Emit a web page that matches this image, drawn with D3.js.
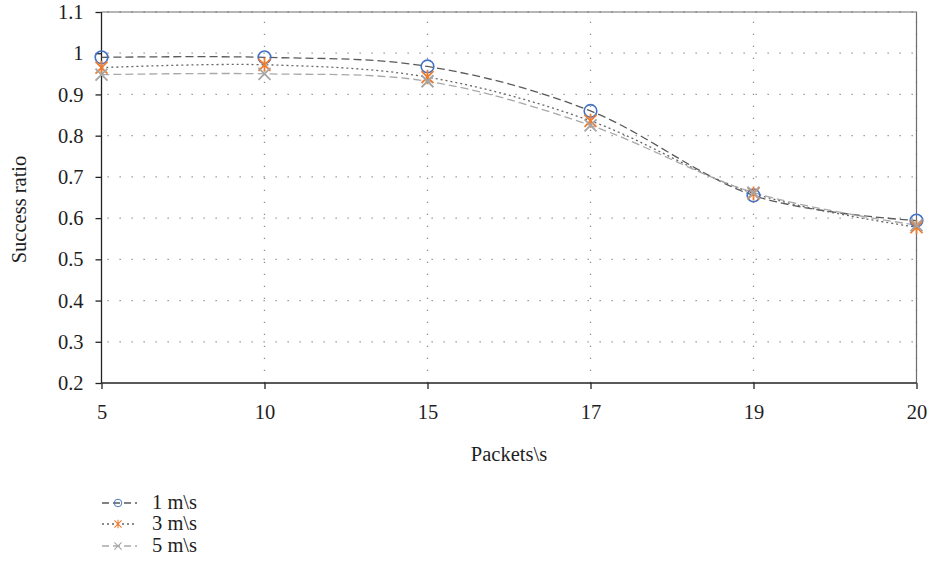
<!DOCTYPE html>
<html>
<head>
<meta charset="utf-8">
<script src="https://cdn.jsdelivr.net/npm/d3@7/dist/d3.min.js"></script>
<style>
  html, body { margin: 0; padding: 0; background: #fff; }
  svg { display: block; }
  text { font-family: "Liberation Serif", "DejaVu Serif", serif; fill: #1e1e1e; }
</style>
</head>
<body>
<svg id="chart" width="932" height="563"></svg>
<script>
// data
const categories = ['5', '10', '15', '17', '19', '20'];
const yTicks = [0.2, 0.3, 0.4, 0.5, 0.6, 0.7, 0.8, 0.9, 1, 1.1];
const speed1 = [0.99, 0.99, 0.968, 0.86, 0.655, 0.594];
const speed3 = [0.965, 0.972, 0.942, 0.836, 0.66, 0.578];
const speed5 = [0.948, 0.95, 0.932, 0.825, 0.662, 0.583];
const seriesNames = ['1 m\\s', '3 m\\s', '5 m\\s'];

const series = [
  { name: seriesNames[0], values: speed1, line: '#5a5a5a', dash: '8,4', marker: 'circle', mcolor: '#4472c4' },
  { name: seriesNames[1], values: speed3, line: '#666666', dash: '2,3', marker: 'star', mcolor: '#ed7d31' },
  { name: seriesNames[2], values: speed5, line: '#a9a9a9', dash: '8,4', marker: 'cross', mcolor: '#a5a5a5' }
];

const svg = d3.select('#chart');
const pLeft = 101.5, pRight = 916.5, pTop = 12, pBottom = 383;
const fs = 20.5;

const x = d3.scalePoint().domain(categories).range([pLeft, pRight]).padding(0);
const y = d3.scaleLinear().domain([0.2, 1.1]).range([pBottom, pTop]);

// grid
const grid = svg.append('g').attr('stroke', '#8c8c8c').attr('stroke-width', 1.3)
    .attr('stroke-dasharray', '1.3,10.7');
grid.selectAll('.hg').data(yTicks.slice(1)).join('line')
    .attr('x1', pLeft + 6).attr('x2', pRight)
    .attr('y1', d => y(d)).attr('y2', d => y(d));
grid.selectAll('.vg').data(categories.slice(1)).join('line')
    .attr('x1', d => x(d)).attr('x2', d => x(d))
    .attr('y1', pBottom).attr('y2', pTop);

// top and right border
svg.append('path')
    .attr('d', `M${pLeft},${pTop}H${pRight}V${pBottom}`)
    .attr('fill', 'none').attr('stroke', '#6e6e6e').attr('stroke-width', 1.2);

// axes
const yAxis = svg.append('g')
    .attr('transform', `translate(${pLeft},0)`)
    .call(d3.axisLeft(y).tickValues(yTicks).tickSize(6).tickPadding(12)
      .tickFormat(d => d3.format('')(+d.toFixed(1))));
const xAxis = svg.append('g')
    .attr('transform', `translate(0,${pBottom})`)
    .call(d3.axisBottom(x).tickSize(6).tickPadding(15));
[yAxis, xAxis].forEach(a => {
  a.select('.domain').attr('stroke', '#222').attr('stroke-width', 1.3);
  a.selectAll('.tick line').attr('stroke', '#222').attr('stroke-width', 1.3);
  a.selectAll('text').attr('font-size', fs).attr('font-family', '"Liberation Serif", serif').attr('fill', '#1e1e1e');
});
xAxis.select('.domain').attr('d', `M${pLeft},0H${pRight}`);
yAxis.select('.domain').attr('d', `M0,${pBottom}V${pTop}`);

// titles
svg.append('text').attr('x', (pLeft + pRight) / 2).attr('y', 461)
    .attr('text-anchor', 'middle').attr('font-size', fs).text('Packets\\s');
svg.append('text').attr('transform', `translate(26,${(pTop + pBottom) / 2 + 12}) rotate(-90)`)
    .attr('text-anchor', 'middle').attr('font-size', fs).text('Success ratio');

// markers
function drawMarker(g, type, color, cx, cy) {
  const s = 6;
  if (type === 'circle') {
    g.append('circle').attr('cx', cx).attr('cy', cy).attr('r', 6.3)
        .attr('fill', 'none').attr('stroke', color).attr('stroke-width', 1.6);
  } else {
    const p = d3.path();
    p.moveTo(cx - s, cy - s); p.lineTo(cx + s, cy + s);
    p.moveTo(cx - s, cy + s); p.lineTo(cx + s, cy - s);
    if (type === 'star') { p.moveTo(cx, cy - s - 1); p.lineTo(cx, cy + s + 1); }
    g.append('path').attr('d', p.toString()).attr('fill', 'none')
        .attr('stroke', color).attr('stroke-width', 1.8);
  }
}

const line = d3.line()
    .x((d, i) => x(categories[i]))
    .y(d => y(d))
    .curve(d3.curveCardinal.tension(0));

const plot = svg.append('g');
series.forEach(s => {
  plot.append('path').datum(s.values).attr('d', line)
      .attr('fill', 'none').attr('stroke', s.line).attr('stroke-width', 1.3)
      .attr('stroke-dasharray', s.dash);
});
series.forEach(s => {
  const g = plot.append('g');
  s.values.forEach((v, i) => drawMarker(g, s.marker, s.mcolor, x(categories[i]), y(v)));
});

// legend
const legendY = [503, 524, 546];
series.forEach((s, i) => {
  const g = svg.append('g');
  const ly = legendY[i];
  g.append('line').attr('x1', 102).attr('x2', 137).attr('y1', ly).attr('y2', ly)
      .attr('stroke', s.line).attr('stroke-width', 1.3).attr('stroke-dasharray', s.dash === '8,4' ? '7,4' : '2,3');
  const mg = g.append('g').attr('transform', 'translate(118,' + ly + ') scale(0.6) translate(-118,' + (-ly) + ')');
  drawMarker(mg, s.marker, s.mcolor, 118, ly);
  g.append('text').attr('x', 152).attr('y', ly + 6).attr('font-size', fs).text(s.name);
});
</script>
</body>
</html>
